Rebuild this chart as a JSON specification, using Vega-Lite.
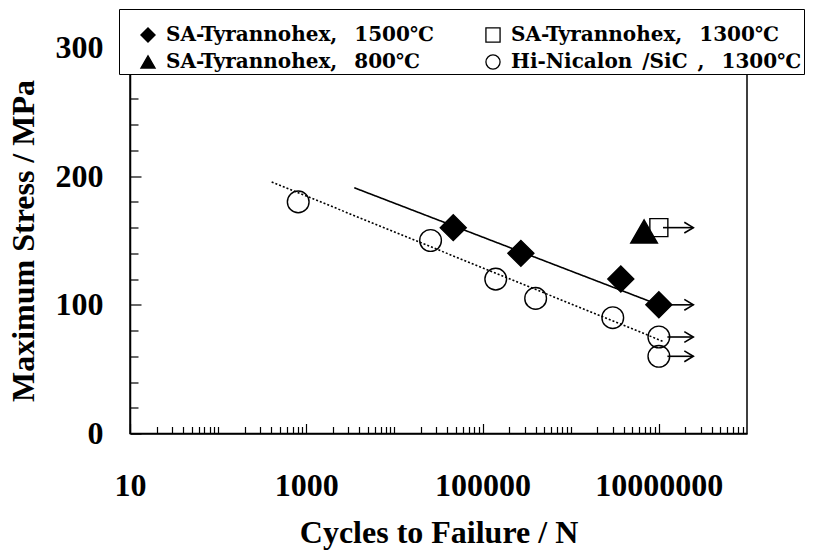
{
  "$schema": "https://vega.github.io/schema/vega-lite/v6.json",
  "width": 617,
  "height": 386,
  "autosize": "none",
  "padding": {"left": 130, "top": 47.5, "right": 74, "bottom": 119.5},
  "background": "white",
  "config": {
    "font": "Liberation Serif",
    "view": {"stroke": "black", "strokeWidth": 1.5},
    "axis": {
      "grid": false,
      "domainColor": "black",
      "domainWidth": 1.5,
      "tickColor": "black",
      "tickWidth": 1.2,
      "labelFont": "Liberation Serif",
      "labelFontSize": 32,
      "labelFontWeight": "bold",
      "labelColor": "black",
      "labelFlush": false,
      "labelOverlap": false,
      "titleFont": "Liberation Serif",
      "titleFontSize": 32,
      "titleFontWeight": "bold",
      "titleColor": "black"
    },
    "legend": {
      "fillColor": "white",
      "strokeColor": "black",
      "padding": 2,
      "columnPadding": 32,
      "rowPadding": 7,
      "labelOffset": 8,
      "symbolSize": 200,
      "symbolOffset": 17,
      "symbolStrokeColor": "black",
      "symbolStrokeWidth": 1.3,
      "labelFont": "DejaVu Serif",
      "labelFontSize": 20,
      "labelFontWeight": "bold",
      "labelColor": "black",
      "labelLimit": 400,
      "titleFontSize": 9,
      "titlePadding": 5
    }
  },
  "datasets": {
    "points": [
      {"N": 46500, "stress": 160, "series": "SA-Tyrannohex, \u20021500℃"},
      {"N": 272000, "stress": 140, "series": "SA-Tyrannohex, \u20021500℃"},
      {"N": 3700000, "stress": 120, "series": "SA-Tyrannohex, \u20021500℃"},
      {"N": 10000000, "stress": 100, "series": "SA-Tyrannohex, \u20021500℃"},
      {"N": 10000000, "stress": 160, "series": "SA-Tyrannohex, \u20021300℃"},
      {"N": 6800000, "stress": 157, "series": "SA-Tyrannohex, \u2002800℃"},
      {"N": 810, "stress": 180, "series": "Hi-Nicalon\u2002/SiC\u2002, \u20021300℃"},
      {"N": 25700, "stress": 150, "series": "Hi-Nicalon\u2002/SiC\u2002, \u20021300℃"},
      {"N": 141000, "stress": 120, "series": "Hi-Nicalon\u2002/SiC\u2002, \u20021300℃"},
      {"N": 400000, "stress": 105, "series": "Hi-Nicalon\u2002/SiC\u2002, \u20021300℃"},
      {"N": 3000000, "stress": 90, "series": "Hi-Nicalon\u2002/SiC\u2002, \u20021300℃"},
      {"N": 10000000, "stress": 75, "series": "Hi-Nicalon\u2002/SiC\u2002, \u20021300℃"},
      {"N": 10000000, "stress": 60, "series": "Hi-Nicalon\u2002/SiC\u2002, \u20021300℃"}
    ],
    "fits": [
      {"N": 3500, "stress": 191, "fit": "SA-Tyrannohex 1500"},
      {"N": 10000000, "stress": 100, "fit": "SA-Tyrannohex 1500"},
      {"N": 405, "stress": 195.5, "fit": "Hi-Nicalon"},
      {"N": 11250000, "stress": 71.5, "fit": "Hi-Nicalon"}
    ],
    "arrows": [
      {"start": 11150000, "end": 24600000, "stress": 160},
      {"start": 11000000, "end": 24600000, "stress": 100},
      {"start": 12500000, "end": 24600000, "stress": 75},
      {"start": 12500000, "end": 24600000, "stress": 60}
    ]
  },
  "resolve": {"axis": {"x": "independent", "y": "independent"}},
  "layer": [
    {
      "data": {"name": "fits"},
      "mark": {"type": "line", "color": "black", "strokeWidth": 1.6},
      "encoding": {
        "x": {
          "field": "N",
          "type": "quantitative",
          "scale": {"type": "log", "domain": [10, 100000000], "nice": false},
          "axis": {
            "orient": "bottom",
            "title": "Cycles to Failure / N",
            "values": [10, 1000, 100000, 10000000],
            "format": "d",
            "tickSize": -10,
            "labelPadding": 47,
            "titlePadding": 16
          }
        },
        "y": {
          "field": "stress",
          "type": "quantitative",
          "scale": {"domain": [0, 300], "nice": false},
          "axis": {
            "orient": "left",
            "title": "Maximum Stress / MPa",
            "values": [0, 100, 200, 300],
            "tickSize": -11,
            "labelPadding": 38,
            "titlePadding": 15
          }
        },
        "detail": {"field": "fit", "type": "nominal"},
        "strokeDash": {
          "field": "fit",
          "type": "nominal",
          "scale": {"domain": ["SA-Tyrannohex 1500", "Hi-Nicalon"], "range": [[1, 0], [2, 2]]},
          "legend": null
        }
      }
    },
    {
      "data": {"name": "arrows"},
      "mark": {"type": "rule", "color": "black", "strokeWidth": 1.6},
      "encoding": {
        "x": {
          "field": "start",
          "type": "quantitative",
          "axis": {
            "orient": "bottom",
            "title": null,
            "labels": false,
            "domain": false,
            "tickSize": -7,
            "values": [20, 30, 40, 50, 60, 70, 80, 90, 100, 200, 300, 400, 500, 600, 700, 800, 900, 2000, 3000, 4000, 5000, 6000, 7000, 8000, 9000, 10000, 20000, 30000, 40000, 50000, 60000, 70000, 80000, 90000, 200000, 300000, 400000, 500000, 600000, 700000, 800000, 900000, 1000000, 2000000, 3000000, 4000000, 5000000, 6000000, 7000000, 8000000, 9000000, 20000000, 30000000, 40000000, 50000000, 60000000, 70000000, 80000000, 90000000]
          }
        },
        "x2": {"field": "end"},
        "y": {
          "field": "stress",
          "type": "quantitative",
          "axis": {
            "orient": "left",
            "title": null,
            "labels": false,
            "domain": false,
            "tickSize": -8,
            "values": [20, 40, 60, 80, 120, 140, 160, 180, 220, 240, 260, 280]
          }
        }
      }
    },
    {
      "data": {"name": "arrows"},
      "mark": {"type": "point", "shape": "M-1,-0.6L0,0L-1,0.6", "filled": false, "stroke": "black", "strokeWidth": 1.6, "size": 324, "opacity": 1},
      "encoding": {
        "x": {"field": "end", "type": "quantitative", "axis": null},
        "y": {"field": "stress", "type": "quantitative", "axis": null}
      }
    },
    {
      "data": {"name": "points"},
      "transform": [{"filter": "datum.series === 'SA-Tyrannohex, \u20021500℃'"}],
      "mark": {"type": "point", "filled": true, "strokeWidth": 1.4, "opacity": 1, "size": 676},
      "encoding": {
        "x": {"field": "N", "type": "quantitative", "axis": null},
        "y": {"field": "stress", "type": "quantitative", "axis": null},
        "shape": {
          "field": "series",
          "type": "nominal",
          "scale": {
            "domain": ["SA-Tyrannohex, \u20021500℃", "SA-Tyrannohex, \u2002800℃", "SA-Tyrannohex, \u20021300℃", "Hi-Nicalon\u2002/SiC\u2002, \u20021300℃"],
            "range": ["diamond", "triangle-up", "square", "circle"]
          },
          "legend": {
            "title": "\u00a0", "orient": "none", "legendX": -11, "legendY": -38.5, "columns": 2, "symbolSize": 200,
            "symbolStrokeColor": "black", "symbolStrokeWidth": 1.3,
            "encode": {"legend": {"update": {"strokeWidth": {"value": 1.5}}}}
          }
        },
        "fill": {
          "field": "series",
          "type": "nominal",
          "scale": {
            "domain": ["SA-Tyrannohex, \u20021500℃", "SA-Tyrannohex, \u2002800℃", "SA-Tyrannohex, \u20021300℃", "Hi-Nicalon\u2002/SiC\u2002, \u20021300℃"],
            "range": ["black", "black", "transparent", "transparent"]
          },
          "legend": {
            "title": "\u00a0", "orient": "none", "legendX": -11, "legendY": -38.5, "columns": 2, "symbolSize": 200,
            "symbolStrokeColor": "black", "symbolStrokeWidth": 1.3,
            "encode": {"legend": {"update": {"strokeWidth": {"value": 1.5}}}}
          }
        },
        "stroke": {
          "field": "series",
          "type": "nominal",
          "scale": {
            "domain": ["SA-Tyrannohex, \u20021500℃", "SA-Tyrannohex, \u2002800℃", "SA-Tyrannohex, \u20021300℃", "Hi-Nicalon\u2002/SiC\u2002, \u20021300℃"],
            "range": ["black", "black", "black", "black"]
          },
          "legend": {
            "title": "\u00a0", "orient": "none", "legendX": -11, "legendY": -38.5, "columns": 2, "symbolSize": 200,
            "symbolStrokeColor": "black", "symbolStrokeWidth": 1.3,
            "encode": {"legend": {"update": {"strokeWidth": {"value": 1.5}}}}
          }
        }
      }
    },
    {
      "data": {"name": "points"},
      "transform": [{"filter": "datum.series === 'SA-Tyrannohex, \u20021300℃'"}],
      "mark": {"type": "point", "filled": true, "strokeWidth": 1.4, "opacity": 1, "size": 324},
      "encoding": {
        "x": {"field": "N", "type": "quantitative", "axis": null},
        "y": {"field": "stress", "type": "quantitative", "axis": null},
        "shape": {"field": "series", "type": "nominal"},
        "fill": {"field": "series", "type": "nominal"},
        "stroke": {"field": "series", "type": "nominal"}
      }
    },
    {
      "data": {"name": "points"},
      "transform": [{"filter": "datum.series === 'SA-Tyrannohex, \u2002800℃'"}],
      "mark": {"type": "point", "filled": true, "strokeWidth": 1.4, "opacity": 1, "size": 710},
      "encoding": {
        "x": {"field": "N", "type": "quantitative", "axis": null},
        "y": {"field": "stress", "type": "quantitative", "axis": null},
        "shape": {"field": "series", "type": "nominal"},
        "fill": {"field": "series", "type": "nominal"},
        "stroke": {"field": "series", "type": "nominal"}
      }
    },
    {
      "data": {"name": "points"},
      "transform": [{"filter": "datum.series === 'Hi-Nicalon\u2002/SiC\u2002, \u20021300℃'"}],
      "mark": {"type": "point", "filled": true, "strokeWidth": 1.4, "opacity": 1, "size": 470},
      "encoding": {
        "x": {"field": "N", "type": "quantitative", "axis": null},
        "y": {"field": "stress", "type": "quantitative", "axis": null},
        "shape": {"field": "series", "type": "nominal"},
        "fill": {"field": "series", "type": "nominal"},
        "stroke": {"field": "series", "type": "nominal"}
      }
    }
  ]
}
